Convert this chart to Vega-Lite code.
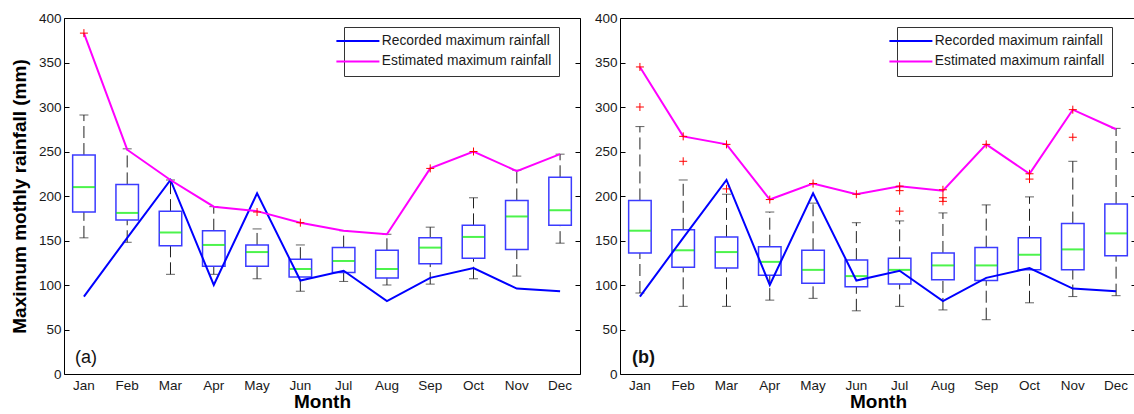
{
  "$schema": "https://vega.github.io/schema/vega-lite/v6.json",
  "padding": {"left": 9, "top": 10, "right": 0, "bottom": 0},
  "spacing": 12,
  "config": {
    "view": {"stroke": "#000000", "strokeWidth": 1},
    "font": "Liberation Sans",
    "axis": {"grid": false, "labelFont": "Liberation Sans", "titleFont": "Liberation Sans", "labelColor": "#1a1a1a", "titleColor": "#000000", "tickColor": "#000000", "labelFontSize": 13.5},
    "legend": {"orient": "none", "direction": "vertical", "symbolType": "M-10,0L10,0", "symbolSize": 18.5, "symbolStrokeWidth": 2, "labelFont": "Liberation Sans", "labelFontSize": 13.8, "labelColor": "#1a1a1a", "labelLimit": 400, "strokeColor": "#333333", "fillColor": "#ffffff", "padding": 7, "rowPadding": 5.5, "labelOffset": 17, "title": null}
  },
  "datasets": {
    "boxA": [
      {"month": "Jan", "wlo": 153, "q1": 182, "med": 210, "q3": 246, "whi": 291},
      {"month": "Feb", "wlo": 148, "q1": 173, "med": 181, "q3": 213, "whi": 253},
      {"month": "Mar", "wlo": 112, "q1": 144, "med": 159, "q3": 183, "whi": 218},
      {"month": "Apr", "wlo": 112, "q1": 121, "med": 145, "q3": 161, "whi": 188},
      {"month": "May", "wlo": 107, "q1": 121, "med": 137, "q3": 145, "whi": 163},
      {"month": "Jun", "wlo": 93, "q1": 109, "med": 118, "q3": 129, "whi": 145},
      {"month": "Jul", "wlo": 104, "q1": 114, "med": 127, "q3": 142, "whi": 161},
      {"month": "Aug", "wlo": 100, "q1": 108, "med": 118, "q3": 139, "whi": 157},
      {"month": "Sep", "wlo": 101, "q1": 124, "med": 142, "q3": 153, "whi": 165},
      {"month": "Oct", "wlo": 107, "q1": 130, "med": 154, "q3": 167, "whi": 198},
      {"month": "Nov", "wlo": 110, "q1": 140, "med": 177, "q3": 195, "whi": 229},
      {"month": "Dec", "wlo": 147, "q1": 167, "med": 184, "q3": 221, "whi": 247}
    ],
    "boxB": [
      {"month": "Jan", "wlo": 91, "q1": 136, "med": 161, "q3": 195, "whi": 278},
      {"month": "Feb", "wlo": 76, "q1": 120, "med": 139, "q3": 162, "whi": 218},
      {"month": "Mar", "wlo": 76, "q1": 119, "med": 137, "q3": 154, "whi": 202},
      {"month": "Apr", "wlo": 83, "q1": 111, "med": 126, "q3": 143, "whi": 182},
      {"month": "May", "wlo": 85, "q1": 102, "med": 117, "q3": 139, "whi": 192},
      {"month": "Jun", "wlo": 71, "q1": 98, "med": 110, "q3": 128, "whi": 170},
      {"month": "Jul", "wlo": 76, "q1": 101, "med": 117, "q3": 130, "whi": 172},
      {"month": "Aug", "wlo": 72, "q1": 106, "med": 122, "q3": 136, "whi": 181},
      {"month": "Sep", "wlo": 61, "q1": 105, "med": 122, "q3": 142, "whi": 190},
      {"month": "Oct", "wlo": 80, "q1": 117, "med": 134, "q3": 153, "whi": 199},
      {"month": "Nov", "wlo": 87, "q1": 117, "med": 140, "q3": 169, "whi": 239},
      {"month": "Dec", "wlo": 88, "q1": 133, "med": 158, "q3": 191, "whi": 276}
    ],
    "linesA": [
      {"month": "Jan", "m": 1, "series": "Recorded maximum rainfall", "value": 87},
      {"month": "Feb", "m": 2, "series": "Recorded maximum rainfall", "value": 153},
      {"month": "Mar", "m": 3, "series": "Recorded maximum rainfall", "value": 218},
      {"month": "Apr", "m": 4, "series": "Recorded maximum rainfall", "value": 100},
      {"month": "May", "m": 5, "series": "Recorded maximum rainfall", "value": 203},
      {"month": "Jun", "m": 6, "series": "Recorded maximum rainfall", "value": 105},
      {"month": "Jul", "m": 7, "series": "Recorded maximum rainfall", "value": 116},
      {"month": "Aug", "m": 8, "series": "Recorded maximum rainfall", "value": 82},
      {"month": "Sep", "m": 9, "series": "Recorded maximum rainfall", "value": 108},
      {"month": "Oct", "m": 10, "series": "Recorded maximum rainfall", "value": 119},
      {"month": "Nov", "m": 11, "series": "Recorded maximum rainfall", "value": 96},
      {"month": "Dec", "m": 12, "series": "Recorded maximum rainfall", "value": 93},
      {"month": "Jan", "m": 1, "series": "Estimated maximum rainfall", "value": 383},
      {"month": "Feb", "m": 2, "series": "Estimated maximum rainfall", "value": 252},
      {"month": "Mar", "m": 3, "series": "Estimated maximum rainfall", "value": 218},
      {"month": "Apr", "m": 4, "series": "Estimated maximum rainfall", "value": 188},
      {"month": "May", "m": 5, "series": "Estimated maximum rainfall", "value": 183},
      {"month": "Jun", "m": 6, "series": "Estimated maximum rainfall", "value": 170},
      {"month": "Jul", "m": 7, "series": "Estimated maximum rainfall", "value": 161},
      {"month": "Aug", "m": 8, "series": "Estimated maximum rainfall", "value": 157},
      {"month": "Sep", "m": 9, "series": "Estimated maximum rainfall", "value": 231},
      {"month": "Oct", "m": 10, "series": "Estimated maximum rainfall", "value": 250},
      {"month": "Nov", "m": 11, "series": "Estimated maximum rainfall", "value": 228},
      {"month": "Dec", "m": 12, "series": "Estimated maximum rainfall", "value": 247}
    ],
    "linesB": [
      {"month": "Jan", "m": 1, "series": "Recorded maximum rainfall", "value": 87},
      {"month": "Feb", "m": 2, "series": "Recorded maximum rainfall", "value": 153},
      {"month": "Mar", "m": 3, "series": "Recorded maximum rainfall", "value": 218},
      {"month": "Apr", "m": 4, "series": "Recorded maximum rainfall", "value": 100},
      {"month": "May", "m": 5, "series": "Recorded maximum rainfall", "value": 203},
      {"month": "Jun", "m": 6, "series": "Recorded maximum rainfall", "value": 105},
      {"month": "Jul", "m": 7, "series": "Recorded maximum rainfall", "value": 116},
      {"month": "Aug", "m": 8, "series": "Recorded maximum rainfall", "value": 82},
      {"month": "Sep", "m": 9, "series": "Recorded maximum rainfall", "value": 108},
      {"month": "Oct", "m": 10, "series": "Recorded maximum rainfall", "value": 119},
      {"month": "Nov", "m": 11, "series": "Recorded maximum rainfall", "value": 96},
      {"month": "Dec", "m": 12, "series": "Recorded maximum rainfall", "value": 93},
      {"month": "Jan", "m": 1, "series": "Estimated maximum rainfall", "value": 345},
      {"month": "Feb", "m": 2, "series": "Estimated maximum rainfall", "value": 267},
      {"month": "Mar", "m": 3, "series": "Estimated maximum rainfall", "value": 258},
      {"month": "Apr", "m": 4, "series": "Estimated maximum rainfall", "value": 196},
      {"month": "May", "m": 5, "series": "Estimated maximum rainfall", "value": 214},
      {"month": "Jun", "m": 6, "series": "Estimated maximum rainfall", "value": 202},
      {"month": "Jul", "m": 7, "series": "Estimated maximum rainfall", "value": 211},
      {"month": "Aug", "m": 8, "series": "Estimated maximum rainfall", "value": 206},
      {"month": "Sep", "m": 9, "series": "Estimated maximum rainfall", "value": 258},
      {"month": "Oct", "m": 10, "series": "Estimated maximum rainfall", "value": 225},
      {"month": "Nov", "m": 11, "series": "Estimated maximum rainfall", "value": 297},
      {"month": "Dec", "m": 12, "series": "Estimated maximum rainfall", "value": 275}
    ],
    "outA": [
      {"month": "Jan", "value": 383},
      {"month": "May", "value": 182},
      {"month": "Jun", "value": 170},
      {"month": "Sep", "value": 231},
      {"month": "Oct", "value": 250}
    ],
    "outB": [
      {"month": "Jan", "value": 345},
      {"month": "Jan", "value": 300},
      {"month": "Feb", "value": 267},
      {"month": "Feb", "value": 239},
      {"month": "Mar", "value": 258},
      {"month": "Mar", "value": 208},
      {"month": "Apr", "value": 196},
      {"month": "May", "value": 214},
      {"month": "Jun", "value": 202},
      {"month": "Jul", "value": 211},
      {"month": "Jul", "value": 206},
      {"month": "Jul", "value": 183},
      {"month": "Aug", "value": 207},
      {"month": "Aug", "value": 198},
      {"month": "Aug", "value": 194},
      {"month": "Sep", "value": 258},
      {"month": "Oct", "value": 225},
      {"month": "Oct", "value": 219},
      {"month": "Nov", "value": 297},
      {"month": "Nov", "value": 266}
    ],
    "labA": [{"month": "Jan", "v": 18, "t": "(a)"}],
    "labB": [{"month": "Jan", "v": 18, "t": "(b)"}]
  },
  "resolve": {"legend": {"color": "independent"}},
  "hconcat": [
    {
      "width": 516,
      "height": 356,
      "resolve": {"axis": {"y": "independent"}},
      "layer": [
        {
          "data": {"name": "boxA"},
          "mark": {"type": "rule", "strokeDash": [12, 5], "color": "#222222", "strokeWidth": 1},
          "encoding": {
            "x": {"field": "month", "type": "nominal", "scale": {"type": "band", "domain": ["Jan", "Feb", "Mar", "Apr", "May", "Jun", "Jul", "Aug", "Sep", "Oct", "Nov", "Dec"], "paddingInner": 0.48, "paddingOuter": 0.2}, "axis": {"title": "Month", "titleFontSize": 19, "titleFontWeight": "bold", "ticks": false, "domain": false, "labelPadding": 4, "titlePadding": 1, "labelAngle": 0}},
            "y": {"field": "wlo", "type": "quantitative", "scale": {"domain": [0, 400], "nice": false}, "axis": {"orient": "left", "title": "Maximum mothly rainfall (mm)", "titleFontSize": 19, "titleFontWeight": "bold", "values": [0, 50, 100, 150, 200, 250, 300, 350, 400], "tickSize": -5, "labelPadding": 8, "domain": false, "titlePadding": 9}},
            "y2": {"field": "q1"}
          }
        },
        {
          "data": {"name": "boxA"},
          "mark": {"type": "rule", "strokeDash": [12, 5], "color": "#222222", "strokeWidth": 1},
          "encoding": {
            "x": {"field": "month", "type": "nominal"},
            "y": {"field": "q3", "type": "quantitative", "axis": {"orient": "right", "title": null, "labels": false, "values": [0, 50, 100, 150, 200, 250, 300, 350, 400], "tickSize": -5, "domain": false}},
            "y2": {"field": "whi"}
          }
        },
        {
          "data": {"name": "boxA"},
          "mark": {"type": "tick", "size": 9, "thickness": 1, "color": "#222222"},
          "encoding": {"x": {"field": "month", "type": "nominal"}, "y": {"field": "whi", "type": "quantitative", "axis": null}}
        },
        {
          "data": {"name": "boxA"},
          "mark": {"type": "tick", "size": 9, "thickness": 1, "color": "#222222"},
          "encoding": {"x": {"field": "month", "type": "nominal"}, "y": {"field": "wlo", "type": "quantitative", "axis": null}}
        },
        {
          "data": {"name": "boxA"},
          "mark": {"type": "bar", "fillOpacity": 0, "stroke": "#3b3bff", "strokeWidth": 1.5},
          "encoding": {"x": {"field": "month", "type": "nominal"}, "y": {"field": "q1", "type": "quantitative", "axis": null}, "y2": {"field": "q3"}}
        },
        {
          "data": {"name": "boxA"},
          "mark": {"type": "tick", "size": 22, "thickness": 2, "color": "#00ee00"},
          "encoding": {"x": {"field": "month", "type": "nominal"}, "y": {"field": "med", "type": "quantitative", "axis": null}}
        },
        {
          "data": {"name": "linesA"},
          "mark": {"type": "line", "strokeWidth": 2},
          "encoding": {
            "x": {"field": "month", "type": "nominal"},
            "y": {"field": "value", "type": "quantitative", "axis": null},
            "color": {"field": "series", "type": "nominal", "scale": {"domain": ["Recorded maximum rainfall", "Estimated maximum rainfall"], "range": ["#0000ff", "#ff00ff"]}, "legend": {"orient": "none", "legendX": 280, "legendY": 9}},
            "order": {"field": "m", "type": "quantitative"}
          }
        },
        {
          "data": {"name": "outA"},
          "mark": {"type": "point", "shape": "M-1,0L1,0M0,-1L0,1", "size": 64, "filled": false, "color": "#ff0000", "strokeWidth": 1, "opacity": 1},
          "encoding": {"x": {"field": "month", "type": "nominal"}, "y": {"field": "value", "type": "quantitative", "axis": null}}
        },
        {
          "data": {"name": "labA"},
          "mark": {"type": "text", "align": "left", "baseline": "middle", "dx": -9, "fontSize": 18, "color": "#111111"},
          "encoding": {"x": {"field": "month", "type": "nominal"}, "y": {"field": "v", "type": "quantitative", "axis": null}, "text": {"field": "t"}}
        }
      ]
    },
    {
      "width": 516,
      "height": 356,
      "resolve": {"axis": {"y": "independent"}},
      "layer": [
        {
          "data": {"name": "boxB"},
          "mark": {"type": "rule", "strokeDash": [12, 5], "color": "#222222", "strokeWidth": 1},
          "encoding": {
            "x": {"field": "month", "type": "nominal", "scale": {"type": "band", "domain": ["Jan", "Feb", "Mar", "Apr", "May", "Jun", "Jul", "Aug", "Sep", "Oct", "Nov", "Dec"], "paddingInner": 0.48, "paddingOuter": 0.2}, "axis": {"title": "Month", "titleFontSize": 19, "titleFontWeight": "bold", "ticks": false, "domain": false, "labelPadding": 4, "titlePadding": 1, "labelAngle": 0}},
            "y": {"field": "wlo", "type": "quantitative", "scale": {"domain": [0, 400], "nice": false}, "axis": {"orient": "left", "title": null, "values": [0, 50, 100, 150, 200, 250, 300, 350, 400], "tickSize": -5, "labelPadding": 8, "domain": false}},
            "y2": {"field": "q1"}
          }
        },
        {
          "data": {"name": "boxB"},
          "mark": {"type": "rule", "strokeDash": [12, 5], "color": "#222222", "strokeWidth": 1},
          "encoding": {
            "x": {"field": "month", "type": "nominal"},
            "y": {"field": "q3", "type": "quantitative", "axis": {"orient": "right", "title": null, "labels": false, "values": [0, 50, 100, 150, 200, 250, 300, 350, 400], "tickSize": -5, "domain": false}},
            "y2": {"field": "whi"}
          }
        },
        {
          "data": {"name": "boxB"},
          "mark": {"type": "tick", "size": 9, "thickness": 1, "color": "#222222"},
          "encoding": {"x": {"field": "month", "type": "nominal"}, "y": {"field": "whi", "type": "quantitative", "axis": null}}
        },
        {
          "data": {"name": "boxB"},
          "mark": {"type": "tick", "size": 9, "thickness": 1, "color": "#222222"},
          "encoding": {"x": {"field": "month", "type": "nominal"}, "y": {"field": "wlo", "type": "quantitative", "axis": null}}
        },
        {
          "data": {"name": "boxB"},
          "mark": {"type": "bar", "fillOpacity": 0, "stroke": "#3b3bff", "strokeWidth": 1.5},
          "encoding": {"x": {"field": "month", "type": "nominal"}, "y": {"field": "q1", "type": "quantitative", "axis": null}, "y2": {"field": "q3"}}
        },
        {
          "data": {"name": "boxB"},
          "mark": {"type": "tick", "size": 22, "thickness": 2, "color": "#00ee00"},
          "encoding": {"x": {"field": "month", "type": "nominal"}, "y": {"field": "med", "type": "quantitative", "axis": null}}
        },
        {
          "data": {"name": "linesB"},
          "mark": {"type": "line", "strokeWidth": 2},
          "encoding": {
            "x": {"field": "month", "type": "nominal"},
            "y": {"field": "value", "type": "quantitative", "axis": null},
            "color": {"field": "series", "type": "nominal", "scale": {"domain": ["Recorded maximum rainfall", "Estimated maximum rainfall"], "range": ["#0000ff", "#ff00ff"]}, "legend": {"orient": "none", "legendX": 277, "legendY": 9}},
            "order": {"field": "m", "type": "quantitative"}
          }
        },
        {
          "data": {"name": "outB"},
          "mark": {"type": "point", "shape": "M-1,0L1,0M0,-1L0,1", "size": 64, "filled": false, "color": "#ff0000", "strokeWidth": 1, "opacity": 1},
          "encoding": {"x": {"field": "month", "type": "nominal"}, "y": {"field": "value", "type": "quantitative", "axis": null}}
        },
        {
          "data": {"name": "labB"},
          "mark": {"type": "text", "align": "left", "baseline": "middle", "dx": -8, "fontSize": 18, "fontWeight": "bold", "color": "#111111"},
          "encoding": {"x": {"field": "month", "type": "nominal"}, "y": {"field": "v", "type": "quantitative", "axis": null}, "text": {"field": "t"}}
        }
      ]
    }
  ]
}
